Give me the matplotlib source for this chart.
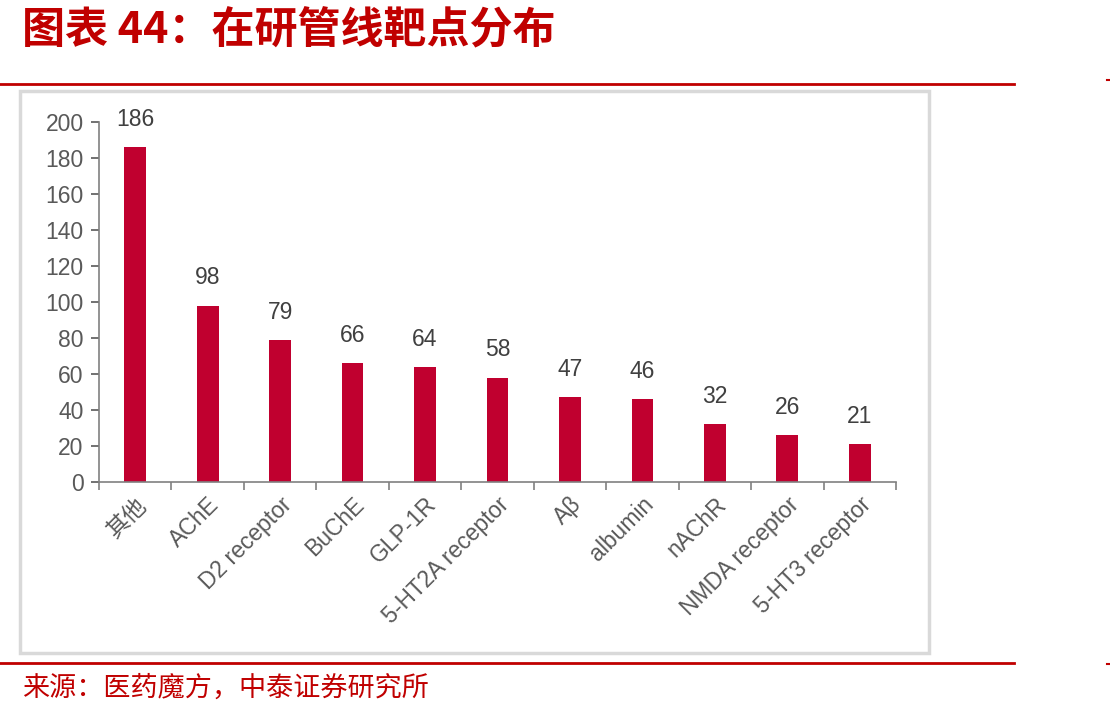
import matplotlib
matplotlib.use("Agg")
import matplotlib.pyplot as plt
from matplotlib.patches import Rectangle
from matplotlib.lines import Line2D

plt.rcParams["font.family"] = ["Liberation Sans", "Noto Sans CJK SC", "DejaVu Sans"]

# ── Data ────────────────────────────────────────────────────────────────────
targets = ["其他", "AChE", "D2 receptor", "BuChE", "GLP-1R", "5-HT2A receptor",
           "Aβ", "albumin", "nAChR", "NMDA receptor", "5-HT3 receptor"]
counts = [186, 98, 79, 66, 64, 58, 47, 46, 32, 26, 21]
y_ticks = [0, 20, 40, 60, 80, 100, 120, 140, 160, 180, 200]

title = "图表 44：在研管线靶点分布"
source = "来源：医药魔方，中泰证券研究所"

RED = "#C00000"
BAR = "#C0002F"
GREY = "#595959"

fig = plt.figure(figsize=(11.1, 7.17), dpi=100)
W, H = 1110, 717

def fx(px):
    return px / W

def fy(py):
    return 1 - py / H

# ── Frame decorations ───────────────────────────────────────────────────────
fig.text(fx(22), fy(30), title, color=RED, fontsize=31, fontweight="bold",
         family=["Noto Sans CJK SC"], va="center", ha="left")
fig.add_artist(Line2D([0, fx(1014)], [fy(84), fy(84)], color=RED, lw=2))
fig.add_artist(Line2D([0, fx(1014)], [fy(663), fy(663)], color=RED, lw=2))
fig.add_artist(Line2D([fx(1107), fx(1109)], [fy(80), fy(80)], color=RED, lw=1.5))
fig.add_artist(Line2D([fx(1107), fx(1109)], [fy(664), fy(664)], color=RED, lw=1.5))
fig.add_artist(Rectangle((fx(20), fy(653)), fx(909), 562 / H, fill=False,
                         edgecolor="#D9D9D9", lw=2.5))
fig.text(fx(22), fy(688), source, color=RED, fontsize=19.5,
         family=["Noto Sans CJK SC"], va="center", ha="left")

# ── Bars ────────────────────────────────────────────────────────────────────
ax = fig.add_axes([fx(99), fy(482), fx(896) - fx(99), (482 - 122) / H])
x = list(range(len(targets)))
ax.bar(x, counts, width=0.3, color=BAR)
for xi, v in zip(x, counts):
    ax.text(xi, v + 9, str(v), ha="center", va="bottom", fontsize=16.5, color="#404040")

ax.set_xlim(-0.5, len(targets) - 0.5)
ax.set_ylim(0, 200)
ax.set_yticks(y_ticks)
ax.tick_params(axis="y", labelsize=16.5, colors=GREY, length=6, width=1.2,
               direction="out", pad=5)
ax.set_xticks([i - 0.5 for i in range(len(targets) + 1)])
ax.set_xticklabels([])
ax.tick_params(axis="x", length=6, width=1.2, colors="#808080", direction="out")
ax.set_xticks(x, minor=True)
ax.set_xticklabels(targets, minor=True, rotation=45, ha="right",
                   rotation_mode="anchor", fontsize=16.5, color=GREY)
ax.tick_params(axis="x", which="minor", length=0, pad=8)
for s in ["top", "right"]:
    ax.spines[s].set_visible(False)
for s in ["left", "bottom"]:
    ax.spines[s].set_color("#808080")
    ax.spines[s].set_linewidth(1.2)

fig.savefig("out.png", dpi=100, facecolor="white")
